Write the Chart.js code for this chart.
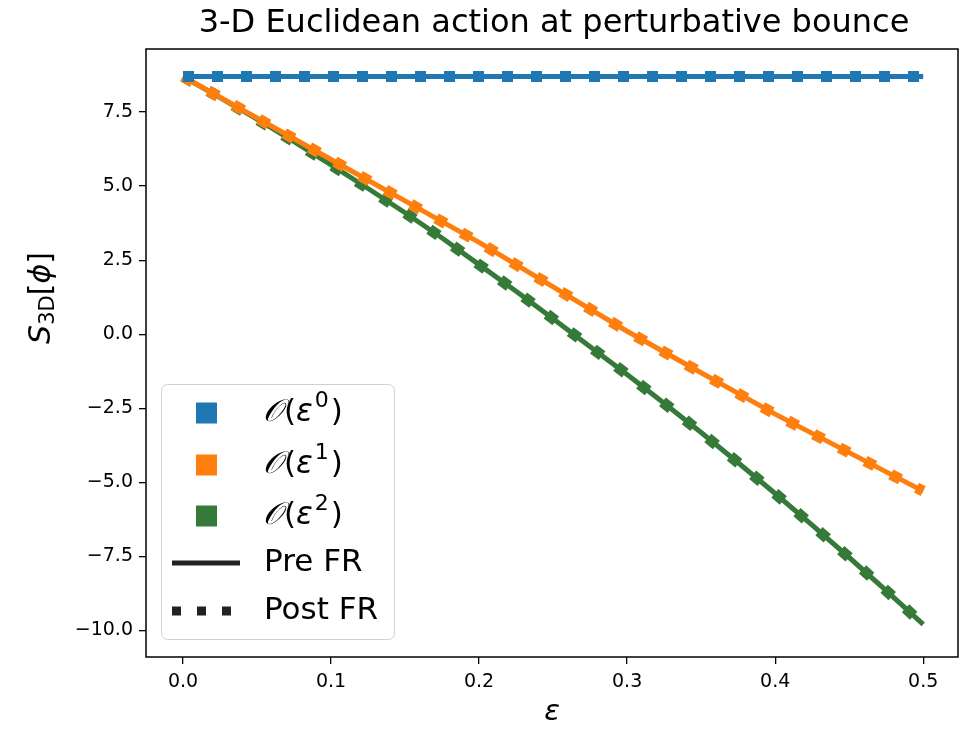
<!DOCTYPE html>
<html>
<head>
<meta charset="utf-8">
<script src="https://cdn.jsdelivr.net/npm/chart.js@4.4.0/dist/chart.umd.min.js"></script>
<style>
html, body { margin: 0; padding: 0; background: #fff; }
#wrap { width: 960px; height: 731px; }
</style>
</head>
<body>
<div id="wrap"><canvas id="actionChart" width="960" height="731"></canvas></div>
<script>
// epsilon grid and the action at each order
var epsilon = [0, 0.025, 0.05, 0.075, 0.1, 0.125, 0.15, 0.175, 0.2, 0.225, 0.25,
               0.275, 0.3, 0.325, 0.35, 0.375, 0.4, 0.425, 0.45, 0.475, 0.5];
var order0 = [8.7, 8.7, 8.7, 8.7, 8.7, 8.7, 8.7, 8.7, 8.7, 8.7, 8.7,
              8.7, 8.7, 8.7, 8.7, 8.7, 8.7, 8.7, 8.7, 8.7, 8.7];
var order1 = [8.7, 8.0, 7.3, 6.6, 5.9, 5.2, 4.5, 3.8, 3.1, 2.35, 1.6,
              0.85, 0.1, -0.6, -1.3, -2.0, -2.7, -3.35, -4.0, -4.65, -5.3];
var order2 = [8.7, 7.99, 7.26, 6.5, 5.72, 4.92, 4.1, 3.25, 2.35, 1.45, 0.52,
              -0.42, -1.36, -2.33, -3.32, -4.34, -5.38, -6.45, -7.54, -8.66, -9.8];

var orderPowers = ['0', '1', '2'];
var orderColors = ['#1f77b4', '#ff7f0e', '#357a38'];
var styleNames = ['Pre FR', 'Post FR'];
var xTicks = [0, 0.1, 0.2, 0.3, 0.4, 0.5];
var yTicks = [-10, -7.5, -5, -2.5, 0, 2.5, 5, 7.5];

var FONT = '"DejaVu Sans", sans-serif';

function pts(ys) {
    return epsilon.map(function (x, i) { return { x: x, y: ys[i] }; });
}

var allOrders = [order0, order1, order2];
var datasets = [];
allOrders.forEach(function (ys, i) {
    datasets.push({
        label: 'order ' + orderPowers[i] + ' ' + styleNames[0],
        data: pts(ys),
        borderColor: orderColors[i],
        borderWidth: 5,
        borderCapStyle: 'butt',
        pointRadius: 0,
        tension: 0,
        fill: false
    });
    datasets.push({
        label: 'order ' + orderPowers[i] + ' ' + styleNames[1],
        data: pts(ys),
        borderColor: orderColors[i],
        borderWidth: 11,
        borderDash: [11, 18],
        borderCapStyle: 'butt',
        pointRadius: 0,
        tension: 0,
        fill: false
    });
});

function fmt(v) {
    var s = Math.abs(v).toFixed(1);
    return v < 0 ? '\u2212' + s : s;
}

var decorations = {
    id: 'decorations',
    afterDraw: function (chart) {
        var ctx = chart.ctx;
        var a = chart.chartArea;
        ctx.save();

        // frame
        ctx.strokeStyle = '#000';
        ctx.lineWidth = 1.5;
        ctx.strokeRect(a.left, a.top, a.right - a.left, a.bottom - a.top);

        // title
        ctx.fillStyle = '#000';
        ctx.font = '32px ' + FONT;
        ctx.textAlign = 'center';
        ctx.textBaseline = 'middle';
        ctx.fillText('3-D Euclidean action at perturbative bounce', 554, 24);

        // x label
        ctx.font = 'italic 29px ' + FONT;
        ctx.fillText('\u03b5', 552, 712);

        // y label S_3D[phi]
        ctx.save();
        ctx.translate(42, 298);
        ctx.rotate(-Math.PI / 2);
        ctx.textAlign = 'left';
        ctx.textBaseline = 'middle';
        var parts = [
            ['italic 30px ' + FONT, 'S', 0],
            ['21px ' + FONT, '3D', 7],
            ['30px ' + FONT, '[', 0],
            ['italic 30px ' + FONT, '\u03d5', 0],
            ['30px ' + FONT, ']', 0]
        ];
        var tw = 0;
        parts.forEach(function (p) { ctx.font = p[0]; tw += ctx.measureText(p[1]).width; });
        var cx = -tw / 2;
        parts.forEach(function (p) {
            ctx.font = p[0];
            ctx.fillText(p[1], cx, p[2]);
            cx += ctx.measureText(p[1]).width;
        });
        ctx.restore();

        // legend
        ctx.beginPath();
        ctx.roundRect(161.5, 384.5, 233, 255, 6);
        ctx.fillStyle = 'rgba(255,255,255,0.85)';
        ctx.fill();
        ctx.strokeStyle = '#d0d0d0';
        ctx.lineWidth = 1;
        ctx.stroke();

        var rowY = [413, 465, 516, 563, 611];
        ctx.textAlign = 'left';
        ctx.textBaseline = 'middle';
        orderPowers.forEach(function (p, i) {
            var y = rowY[i];
            ctx.fillStyle = orderColors[i];
            ctx.fillRect(196, y - 10.5, 21, 21);
            ctx.fillStyle = '#000';
            var x = 263;
            ctx.font = 'italic 31px ' + FONT;
            ctx.fillText('\ud835\udcaa', x, y);
            x += ctx.measureText('\ud835\udcaa').width + 1;
            ctx.font = '31px ' + FONT;
            ctx.fillText('(', x, y);
            x += ctx.measureText('(').width;
            ctx.font = 'italic 31px ' + FONT;
            ctx.fillText('\u03b5', x, y);
            x += ctx.measureText('\u03b5').width + 2;
            ctx.font = '22px ' + FONT;
            ctx.fillText(p, x, y - 12);
            x += ctx.measureText(p).width + 2;
            ctx.font = '31px ' + FONT;
            ctx.fillText(')', x, y);
        });

        ctx.fillStyle = '#222';
        ctx.strokeStyle = '#222';
        ctx.lineWidth = 5;
        ctx.beginPath();
        ctx.moveTo(172, rowY[3]);
        ctx.lineTo(240, rowY[3]);
        ctx.stroke();
        [172, 197, 222].forEach(function (x) {
            ctx.fillRect(x, rowY[4] - 4.5, 9, 9);
        });
        ctx.fillStyle = '#000';
        ctx.font = '31px ' + FONT;
        ctx.fillText(styleNames[0], 264, rowY[3]);
        ctx.fillText(styleNames[1], 264, rowY[4]);

        ctx.restore();
    }
};

var ctx = document.getElementById('actionChart');
var chart = new Chart(ctx, {
    type: 'line',
    data: { datasets: datasets },
    options: {
        responsive: false,
        animation: false,
        devicePixelRatio: 1,
        layout: { padding: { top: 49, right: 2, left: 0, bottom: 0 } },
        plugins: {
            legend: { display: false },
            title: { display: false },
            tooltip: { enabled: false }
        },
        scales: {
            x: {
                type: 'linear',
                min: -0.025,
                max: 0.5235,
                afterBuildTicks: function (scale) {
                    scale.ticks = xTicks.map(function (v) { return { value: v }; });
                },
                afterFit: function (scale) { scale.height = 74; },
                ticks: {
                    color: '#000',
                    font: { family: FONT, size: 19 },
                    padding: 7,
                    maxRotation: 0,
                    callback: function (v) { return fmt(v); }
                },
                grid: {
                    drawOnChartArea: false,
                    drawTicks: true,
                    tickLength: 7,
                    color: '#000',
                    lineWidth: 1.3
                },
                border: { display: false }
            },
            y: {
                type: 'linear',
                min: -10.9,
                max: 9.63,
                afterBuildTicks: function (scale) {
                    scale.ticks = yTicks.map(function (v) { return { value: v }; });
                },
                afterFit: function (scale) { scale.width = 146; },
                ticks: {
                    color: '#000',
                    font: { family: FONT, size: 19 },
                    padding: 6,
                    callback: function (v) { return fmt(v); }
                },
                grid: {
                    drawOnChartArea: false,
                    drawTicks: true,
                    tickLength: 7,
                    color: '#000',
                    lineWidth: 1.3
                },
                border: { display: false }
            }
        }
    },
    plugins: [decorations]
});
</script>
</body>
</html>
